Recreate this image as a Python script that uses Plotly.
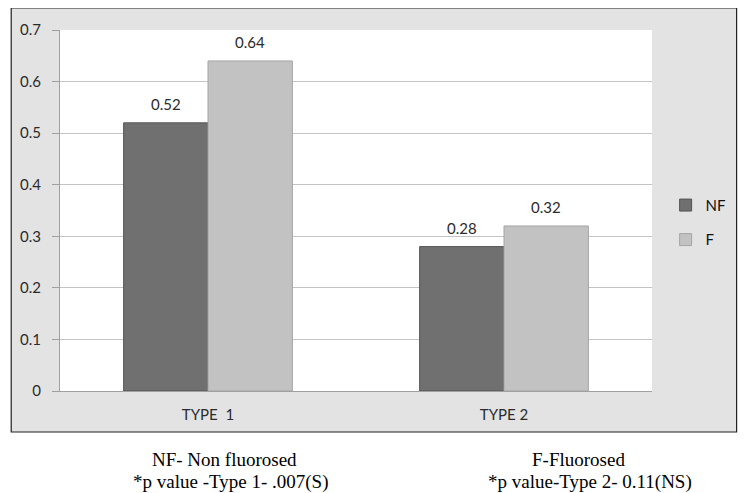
import plotly.graph_objects as go

categories = ['TYPE  1', 'TYPE 2']
nf_values = [0.52, 0.28]
f_values = [0.64, 0.32]
y_ticks = [0, 0.1, 0.2, 0.3, 0.4, 0.5, 0.6, 0.7]
notes = ['NF- Non fluorosed', '*p value -Type 1- .007(S)',
         'F-Fluorosed', '*p value-Type 2- 0.11(NS)']
note_x = [0.278, 0.288, 0.876, 0.896]
note_y = [-0.191, -0.252, -0.191, -0.252]

label_font = dict(family='Lato, Open Sans, sans-serif', size=15, color='#2b2b2b')

# page body has an 8px margin, so the figure is a bit smaller than the window
W, H = 738, 485
fig = go.Figure()

fig.add_trace(go.Bar(
    x=categories, y=nf_values, name='NF',
    marker=dict(color='#707070', line=dict(color='#555555', width=1)),
    legendgroup='nf'
))

fig.add_trace(go.Bar(
    x=categories, y=f_values, name='F',
    marker=dict(color='#c2c2c2', line=dict(color='#a5a5a5', width=1)),
    legendgroup='f'
))

# value labels above bars
half_bar = 0.57 * (W - 49 - 94) / len(categories) / 4
for cat, v in zip(categories, nf_values):
    fig.add_annotation(x=cat, y=v, text=str(v), showarrow=False, xshift=-half_bar,
                       yanchor='bottom', yshift=8, font=label_font)
for cat, v in zip(categories, f_values):
    fig.add_annotation(x=cat, y=v, text=str(v), showarrow=False, xshift=half_bar,
                       yanchor='bottom', yshift=8, font=label_font)

# grey outer frame and white plot area
fig.add_shape(type='rect', xref='paper', yref='paper',
              x0=-0.0824, x1=1.1429, y0=-0.1136, y1=1.061,
              fillcolor='#e3e3e3', line=dict(color='#222222', width=1.2),
              layer='below')
fig.add_shape(type='rect', xref='paper', yref='paper',
              x0=0, x1=1, y0=0, y1=1,
              fillcolor='white', line=dict(width=0), layer='below')

for txt, nx, ny in zip(notes, note_x, note_y):
    fig.add_annotation(x=nx, y=ny, xref='paper', yref='paper',
                       text=txt, showarrow=False, xanchor='center', yanchor='middle',
                       font=dict(family='Liberation Serif, serif', size=19, color='black'))

fig.update_layout(
    width=W, height=H,
    margin=dict(l=49, r=94, t=22, b=102),
    paper_bgcolor='white', plot_bgcolor='white',
    barmode='group', bargap=0.43, bargroupgap=0,
    showlegend=True,
    legend=dict(x=1.023, y=0.56, xanchor='left', yanchor='top',
                font=dict(family='Lato, Open Sans, sans-serif', size=15, color='#111111'),
                bgcolor='rgba(0,0,0,0)', tracegroupgap=12),
    font=label_font,
)

fig.update_yaxes(range=[0, 0.7], tickvals=y_ticks, ticktext=[str(t) for t in y_ticks],
                 showgrid=True, gridcolor='#c4c4c4', gridwidth=1,
                 showline=True, linecolor='#a0a0a0', ticks='outside', ticklen=7,
                 tickcolor='#a0a0a0', tickfont=label_font, zeroline=False,
                 ticklabelstandoff=8)
fig.update_xaxes(showline=True, linecolor='#a0a0a0', ticks='', tickfont=label_font,
                 ticklabelstandoff=10)

fig.write_html('out.html')
